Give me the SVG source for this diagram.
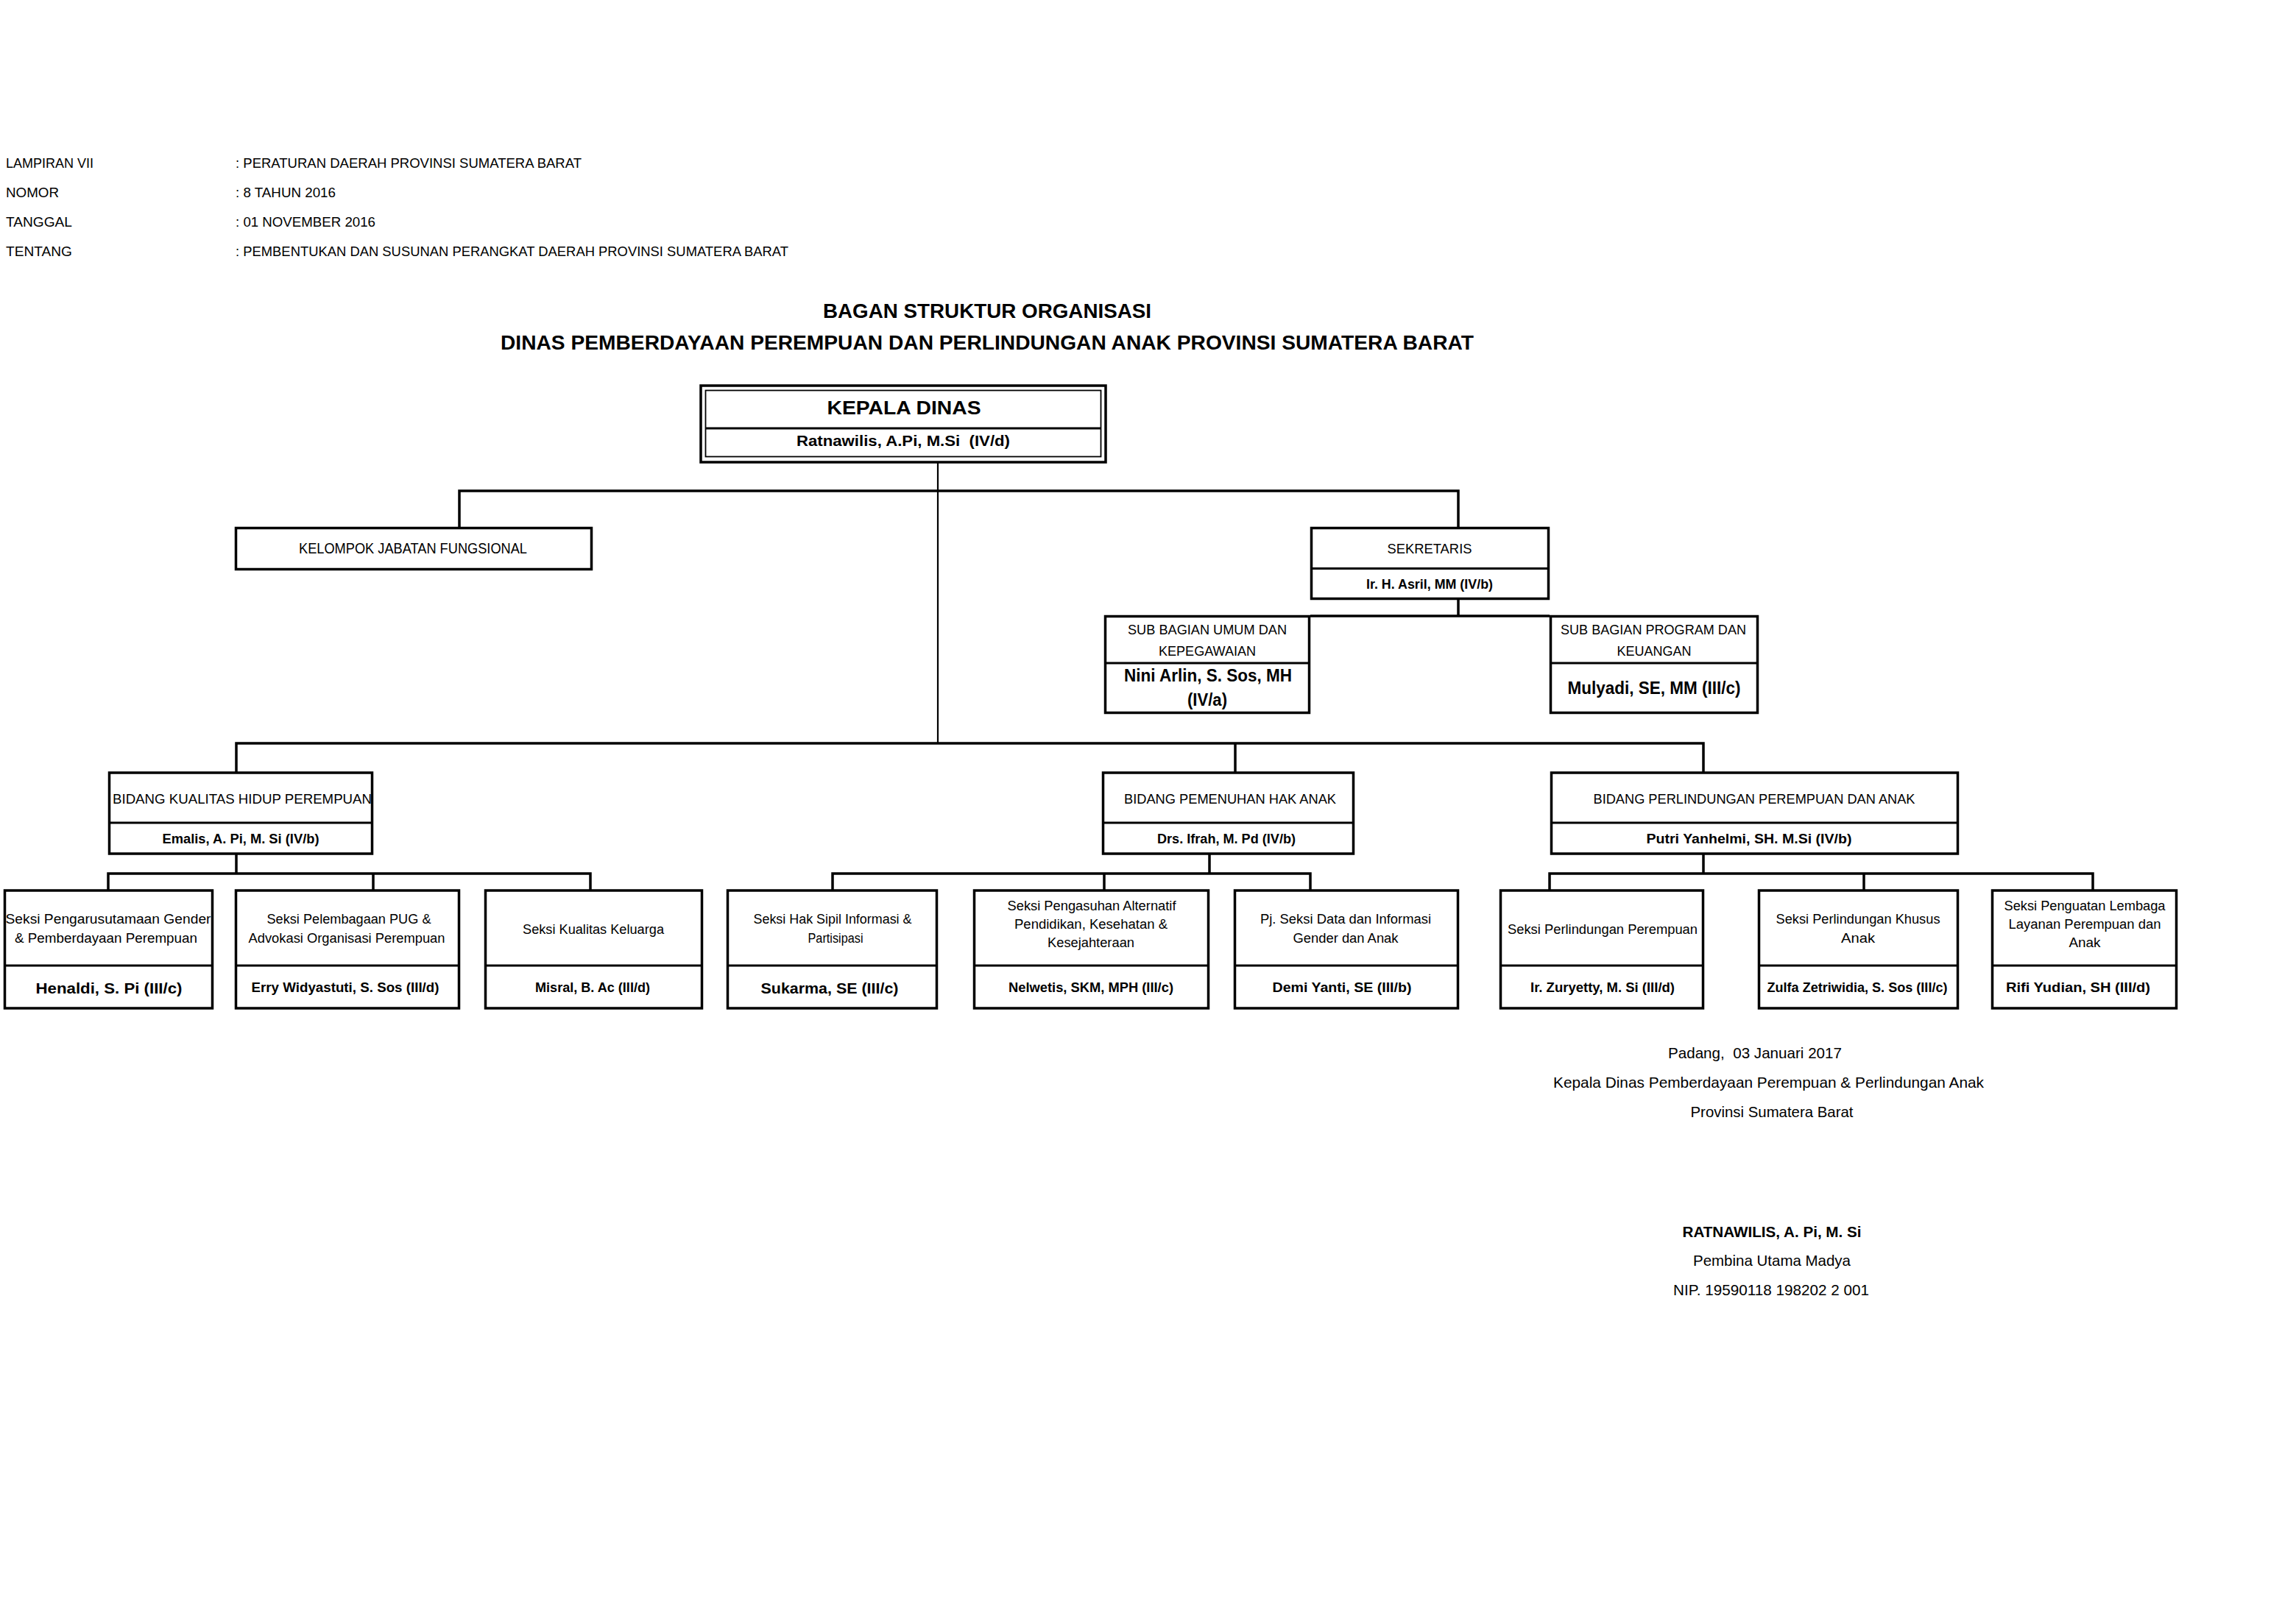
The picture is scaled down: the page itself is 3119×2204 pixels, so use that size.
<svg xmlns="http://www.w3.org/2000/svg" width="3119" height="2204" viewBox="0 0 3119 2204">
<style>
.t{font-family:"Liberation Sans",Arial,Helvetica,sans-serif;fill:#000}
.b{font-weight:bold}
.m{text-anchor:middle}
.box{fill:#fff;stroke:#000;stroke-width:3.5}
.dv{stroke:#000;stroke-width:3}
.cn{fill:none;stroke:#000;stroke-width:3.5}
</style>
<rect x="0" y="0" width="3119" height="2204" fill="#fff"/>

<g id="header" class="t" font-size="19">
<text x="8" y="228" textLength="119" lengthAdjust="spacingAndGlyphs">LAMPIRAN VII</text>
<text x="8" y="268" textLength="72" lengthAdjust="spacingAndGlyphs">NOMOR</text>
<text x="8" y="308" textLength="90" lengthAdjust="spacingAndGlyphs">TANGGAL</text>
<text x="8" y="348" textLength="90" lengthAdjust="spacingAndGlyphs">TENTANG</text>
<text x="320" y="228" textLength="470" lengthAdjust="spacingAndGlyphs">: PERATURAN DAERAH PROVINSI SUMATERA BARAT</text>
<text x="320" y="268" textLength="136" lengthAdjust="spacingAndGlyphs">: 8 TAHUN 2016</text>
<text x="320" y="308" textLength="190" lengthAdjust="spacingAndGlyphs">: 01 NOVEMBER 2016</text>
<text x="320" y="348" textLength="751" lengthAdjust="spacingAndGlyphs">: PEMBENTUKAN DAN SUSUNAN PERANGKAT DAERAH PROVINSI SUMATERA BARAT</text>
</g>

<g id="title" class="t b m" font-size="27">
<text x="1341" y="432" textLength="446" lengthAdjust="spacingAndGlyphs">BAGAN STRUKTUR ORGANISASI</text>
<text x="1341" y="475" textLength="1322" lengthAdjust="spacingAndGlyphs">DINAS PEMBERDAYAAN PEREMPUAN DAN PERLINDUNGAN ANAK PROVINSI SUMATERA BARAT</text>
</g>

<g id="connectors" class="cn">
<path d="M1274 628 V1010" style="stroke-width:2.2"/>
<path d="M624 717 V667 H1981 V717"/>
<path d="M1981 814 V837"/>
<path d="M1780 837 H2105"/>
<path d="M321 1049 V1010 H2314 V1049"/>
<path d="M1678 1010 V1049"/>
<path d="M321 1160 V1187"/>
<path d="M147 1210 V1187 H802 V1210"/>
<path d="M507 1187 V1210"/>
<path d="M1643 1160 V1187"/>
<path d="M1131 1210 V1187 H1780 V1210"/>
<path d="M1500 1187 V1210"/>
<path d="M2314 1160 V1187"/>
<path d="M2105 1210 V1187 H2843 V1210"/>
<path d="M2532 1187 V1210"/>
</g>

<g id="kepala-dinas">
<rect x="952" y="524" width="550" height="104" class="box"/>
<rect x="958.5" y="530.5" width="537" height="90" fill="none" stroke="#000" stroke-width="1.8"/>
<line x1="958.5" y1="582" x2="1495.5" y2="582" class="dv" stroke-width="2.5"/>
<text x="1228" y="563" font-size="25" class="t b m" textLength="209" lengthAdjust="spacingAndGlyphs">KEPALA DINAS</text>
<text x="1227" y="606" font-size="20" class="t b m" textLength="290" lengthAdjust="spacingAndGlyphs" xml:space="preserve">Ratnawilis, A.Pi, M.Si  (IV/d)</text>
</g>

<g id="kelompok-jabatan-fungsional">
<rect x="320.5" y="717.5" width="483" height="56" class="box"/>
<text x="561" y="752" font-size="19.5" class="t m" textLength="310" lengthAdjust="spacingAndGlyphs">KELOMPOK JABATAN FUNGSIONAL</text>
</g>

<g id="sekretaris">
<rect x="1781.5" y="717.5" width="322" height="96" class="box"/>
<line x1="1781.5" y1="772.5" x2="2103.5" y2="772.5" class="dv"/>
<text x="1942" y="752" font-size="19" class="t m" textLength="115" lengthAdjust="spacingAndGlyphs">SEKRETARIS</text>
<text x="1942" y="800" font-size="18" class="t b m" textLength="172" lengthAdjust="spacingAndGlyphs">Ir. H. Asril, MM (IV/b)</text>
</g>

<g id="subbag-umum">
<rect x="1501.5" y="837.5" width="277" height="131" class="box"/>
<line x1="1501.5" y1="901" x2="1778.5" y2="901" class="dv"/>
<text x="1640" y="862" font-size="18.5" class="t m" textLength="216" lengthAdjust="spacingAndGlyphs">SUB BAGIAN UMUM DAN</text>
<text x="1640" y="891" font-size="18.5" class="t m" textLength="132" lengthAdjust="spacingAndGlyphs">KEPEGAWAIAN</text>
<text x="1641" y="926" font-size="24" class="t b m" textLength="228" lengthAdjust="spacingAndGlyphs">Nini Arlin, S. Sos, MH</text>
<text x="1640" y="959" font-size="24" class="t b m" textLength="54" lengthAdjust="spacingAndGlyphs">(IV/a)</text>
</g>

<g id="subbag-program">
<rect x="2106.5" y="837.5" width="281" height="131" class="box"/>
<line x1="2106.5" y1="901" x2="2387.5" y2="901" class="dv"/>
<text x="2246" y="862" font-size="18.5" class="t m" textLength="252" lengthAdjust="spacingAndGlyphs">SUB BAGIAN PROGRAM DAN</text>
<text x="2247" y="891" font-size="18.5" class="t m" textLength="101" lengthAdjust="spacingAndGlyphs">KEUANGAN</text>
<text x="2247" y="943" font-size="24" class="t b m" textLength="235" lengthAdjust="spacingAndGlyphs">Mulyadi, SE, MM (III/c)</text>
</g>

<g id="bidang-kualitas-hidup">
<rect x="148.5" y="1050" width="357" height="110" class="box"/>
<line x1="148.5" y1="1118" x2="505.5" y2="1118" class="dv"/>
<text x="329" y="1092" font-size="19" class="t m" textLength="352" lengthAdjust="spacingAndGlyphs">BIDANG KUALITAS HIDUP PEREMPUAN</text>
<text x="327" y="1146" font-size="18" class="t b m" textLength="213" lengthAdjust="spacingAndGlyphs">Emalis, A. Pi, M. Si (IV/b)</text>
</g>

<g id="bidang-pemenuhan-hak-anak">
<rect x="1498.5" y="1050" width="340" height="110" class="box"/>
<line x1="1498.5" y1="1118" x2="1838.5" y2="1118" class="dv"/>
<text x="1671" y="1092" font-size="19" class="t m" textLength="288" lengthAdjust="spacingAndGlyphs">BIDANG PEMENUHAN HAK ANAK</text>
<text x="1666" y="1146" font-size="18" class="t b m" textLength="188" lengthAdjust="spacingAndGlyphs">Drs. Ifrah, M. Pd (IV/b)</text>
</g>

<g id="bidang-perlindungan">
<rect x="2107.5" y="1050" width="552" height="110" class="box"/>
<line x1="2107.5" y1="1118" x2="2659.5" y2="1118" class="dv"/>
<text x="2383" y="1092" font-size="19" class="t m" textLength="437" lengthAdjust="spacingAndGlyphs">BIDANG PERLINDUNGAN PEREMPUAN DAN ANAK</text>
<text x="2376" y="1146" font-size="18" class="t b m" textLength="279" lengthAdjust="spacingAndGlyphs">Putri Yanhelmi, SH. M.Si (IV/b)</text>
</g>

<g id="seksi-pug">
<rect x="6.5" y="1210" width="282" height="160" class="box"/>
<line x1="6.5" y1="1312" x2="288.5" y2="1312" class="dv"/>
<text x="147" y="1255" font-size="18" class="t m" textLength="279" lengthAdjust="spacingAndGlyphs">Seksi Pengarusutamaan Gender</text>
<text x="144" y="1281" font-size="18" class="t m" textLength="248" lengthAdjust="spacingAndGlyphs">&amp; Pemberdayaan Perempuan</text>
<text x="148" y="1350" font-size="21" class="t b m" textLength="199" lengthAdjust="spacingAndGlyphs">Henaldi, S. Pi (III/c)</text>
</g>

<g id="seksi-pelembagaan">
<rect x="320.5" y="1210" width="303" height="160" class="box"/>
<line x1="320.5" y1="1312" x2="623.5" y2="1312" class="dv"/>
<text x="474" y="1255" font-size="18" class="t m" textLength="223" lengthAdjust="spacingAndGlyphs">Seksi Pelembagaan PUG &amp;</text>
<text x="471" y="1281" font-size="18" class="t m" textLength="267" lengthAdjust="spacingAndGlyphs">Advokasi Organisasi Perempuan</text>
<text x="469" y="1348" font-size="18" class="t b m" textLength="255" lengthAdjust="spacingAndGlyphs">Erry Widyastuti, S. Sos (III/d)</text>
</g>

<g id="seksi-kualitas-keluarga">
<rect x="659.5" y="1210" width="294" height="160" class="box"/>
<line x1="659.5" y1="1312" x2="953.5" y2="1312" class="dv"/>
<text x="806" y="1269" font-size="18" class="t m" textLength="192" lengthAdjust="spacingAndGlyphs">Seksi Kualitas Keluarga</text>
<text x="805" y="1348" font-size="18" class="t b m" textLength="156" lengthAdjust="spacingAndGlyphs">Misral, B. Ac (III/d)</text>
</g>

<g id="seksi-hak-sipil">
<rect x="988.5" y="1210" width="284" height="160" class="box"/>
<line x1="988.5" y1="1312" x2="1272.5" y2="1312" class="dv"/>
<text x="1131" y="1255" font-size="18" class="t m" textLength="215" lengthAdjust="spacingAndGlyphs">Seksi Hak Sipil Informasi &amp;</text>
<text x="1135" y="1281" font-size="18" class="t m" textLength="75" lengthAdjust="spacingAndGlyphs">Partisipasi</text>
<text x="1127" y="1350" font-size="20" class="t b m" textLength="187" lengthAdjust="spacingAndGlyphs">Sukarma, SE (III/c)</text>
</g>

<g id="seksi-pengasuhan">
<rect x="1323.5" y="1210" width="318" height="160" class="box"/>
<line x1="1323.5" y1="1312" x2="1641.5" y2="1312" class="dv"/>
<text x="1483" y="1237" font-size="18" class="t m" textLength="229" lengthAdjust="spacingAndGlyphs">Seksi Pengasuhan Alternatif</text>
<text x="1482" y="1262" font-size="18" class="t m" textLength="208" lengthAdjust="spacingAndGlyphs">Pendidikan, Kesehatan &amp;</text>
<text x="1482" y="1287" font-size="18" class="t m" textLength="118" lengthAdjust="spacingAndGlyphs">Kesejahteraan</text>
<text x="1482" y="1348" font-size="18" class="t b m" textLength="224" lengthAdjust="spacingAndGlyphs">Nelwetis, SKM, MPH (III/c)</text>
</g>

<g id="seksi-data-informasi">
<rect x="1677.5" y="1210" width="303" height="160" class="box"/>
<line x1="1677.5" y1="1312" x2="1980.5" y2="1312" class="dv"/>
<text x="1828" y="1255" font-size="18" class="t m" textLength="232" lengthAdjust="spacingAndGlyphs">Pj. Seksi Data dan Informasi</text>
<text x="1828" y="1281" font-size="18" class="t m" textLength="143" lengthAdjust="spacingAndGlyphs">Gender dan Anak</text>
<text x="1823" y="1348" font-size="18" class="t b m" textLength="189" lengthAdjust="spacingAndGlyphs">Demi Yanti, SE (III/b)</text>
</g>

<g id="seksi-perlindungan-perempuan">
<rect x="2038.5" y="1210" width="275" height="160" class="box"/>
<line x1="2038.5" y1="1312" x2="2313.5" y2="1312" class="dv"/>
<text x="2177" y="1269" font-size="18" class="t m" textLength="258" lengthAdjust="spacingAndGlyphs">Seksi Perlindungan Perempuan</text>
<text x="2177" y="1348" font-size="18" class="t b m" textLength="196" lengthAdjust="spacingAndGlyphs">Ir. Zuryetty, M. Si (III/d)</text>
</g>

<g id="seksi-perlindungan-khusus-anak">
<rect x="2389.5" y="1210" width="270" height="160" class="box"/>
<line x1="2389.5" y1="1312" x2="2659.5" y2="1312" class="dv"/>
<text x="2524" y="1255" font-size="18" class="t m" textLength="223" lengthAdjust="spacingAndGlyphs">Seksi Perlindungan Khusus</text>
<text x="2524" y="1281" font-size="18" class="t m" textLength="46" lengthAdjust="spacingAndGlyphs">Anak</text>
<text x="2523" y="1348" font-size="18" class="t b m" textLength="245" lengthAdjust="spacingAndGlyphs">Zulfa Zetriwidia, S. Sos (III/c)</text>
</g>

<g id="seksi-penguatan-lembaga">
<rect x="2706.5" y="1210" width="250" height="160" class="box"/>
<line x1="2706.5" y1="1312" x2="2956.5" y2="1312" class="dv"/>
<text x="2832" y="1237" font-size="18" class="t m" textLength="219" lengthAdjust="spacingAndGlyphs">Seksi Penguatan Lembaga</text>
<text x="2832" y="1262" font-size="18" class="t m" textLength="207" lengthAdjust="spacingAndGlyphs">Layanan Perempuan dan</text>
<text x="2832" y="1287" font-size="18" class="t m" textLength="43" lengthAdjust="spacingAndGlyphs">Anak</text>
<text x="2823" y="1348" font-size="18" class="t b m" textLength="196" lengthAdjust="spacingAndGlyphs">Rifi Yudian, SH (III/d)</text>
</g>

<g id="signature" class="t" font-size="21">
<text x="2384" y="1438" class="m" textLength="236" lengthAdjust="spacingAndGlyphs" xml:space="preserve">Padang,  03 Januari 2017</text>
<text x="2110" y="1478" textLength="585" lengthAdjust="spacingAndGlyphs">Kepala Dinas Pemberdayaan Perempuan &amp; Perlindungan Anak</text>
<text x="2407" y="1518" class="m" textLength="221" lengthAdjust="spacingAndGlyphs">Provinsi Sumatera Barat</text>
<text x="2407" y="1681" class="m b" textLength="243" lengthAdjust="spacingAndGlyphs">RATNAWILIS, A. Pi, M. Si</text>
<text x="2407" y="1720" class="m" textLength="214" lengthAdjust="spacingAndGlyphs">Pembina Utama Madya</text>
<text x="2406" y="1760" class="m" textLength="266" lengthAdjust="spacingAndGlyphs">NIP. 19590118 198202 2 001</text>
</g>
</svg>
